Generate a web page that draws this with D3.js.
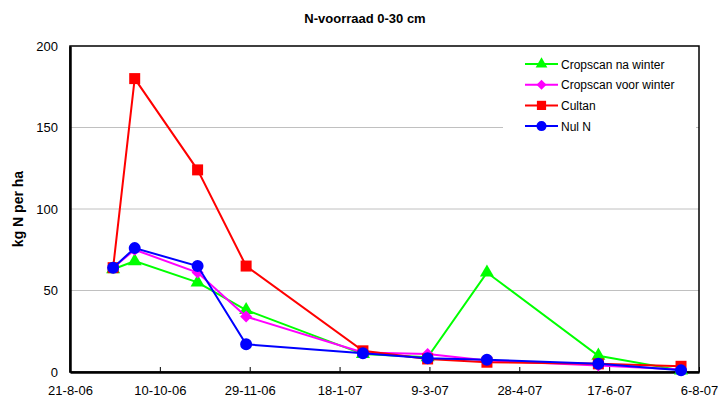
<!DOCTYPE html>
<html>
<head>
<meta charset="utf-8">
<script src="https://cdn.jsdelivr.net/npm/d3@7"></script>
<style>
  body { margin: 0; background: #fff; }
  svg { font-family: "Liberation Sans", Arial, sans-serif; }
</style>
</head>
<body>
<svg id="chart" width="718" height="401"></svg>
<script>
// sample dates and measured N stock
const dates = ["2006-09-14", "2006-09-26", "2006-10-31", "2006-11-27", "2007-01-31",
    "2007-03-08", "2007-04-10", "2007-06-11", "2007-07-27"];

const naWinter = [63, 68, 55, 38, 11, 9, 61, 10, 1];
const voorWinter = [64, 75, 61, 34, 12, 11, 7, 4, 1.5];
const cultan = [64, 180, 124, 65, 13, 8, 6, 5, 3.5];
const nulN = [64, 76, 65, 17, 11.5, 8.5, 7.5, 5, 1];

const seriesNames = ["Cropscan na winter", "Cropscan voor winter", "Cultan", "Nul N"];
const xTicks = ["2006-08-21", "2006-10-10", "2006-11-29", "2007-01-18", "2007-03-09",
    "2007-04-28", "2007-06-17", "2007-08-06"];
const yTicks = [0, 50, 100, 150, 200];

const margin = { top: 46, right: 19, bottom: 29, left: 70 };
const width = 718, height = 401;

const svg = d3.select("#chart");

const x = d3.scaleUtc()
    .domain([new Date(xTicks[0]), new Date(xTicks[xTicks.length - 1])])
    .range([margin.left, width - margin.right]);

const y = d3.scaleLinear()
    .domain([0, 200])
    .range([height - margin.bottom, margin.top]);

const fmt = d3.utcFormat("%-d-%-m-%y");

// gridlines
svg.append("g")
    .selectAll("line")
    .data(yTicks.slice(1, -1))
    .join("line")
    .attr("x1", margin.left).attr("x2", width - margin.right)
    .attr("y1", d => y(d)).attr("y2", d => y(d))
    .attr("stroke", "#c0c0c0")
    .attr("stroke-width", 1);

// legend background (covers gridline)
svg.append("rect")
    .attr("x", 503).attr("y", 50)
    .attr("width", 193).attr("height", 88)
    .attr("fill", "#fff");

// frame
svg.append("rect")
    .attr("x", margin.left).attr("y", margin.top)
    .attr("width", width - margin.left - margin.right)
    .attr("height", height - margin.top - margin.bottom)
    .attr("fill", "none")
    .attr("stroke", "#000")
    .attr("stroke-width", 1.5);

// x axis
const xAxis = svg.append("g")
    .attr("transform", `translate(0,${height - margin.bottom})`)
    .call(d3.axisBottom(x)
        .tickValues(xTicks.map(d => new Date(d)))
        .tickFormat(fmt)
        .tickSizeInner(-5)
        .tickSizeOuter(0)
        .tickPadding(14));
xAxis.select(".domain").attr("stroke-width", 2.5);
xAxis.selectAll("text")
    .attr("font-size", 13)
    .attr("fill", "#000")
    .attr("font-family", "'Liberation Sans', Arial, sans-serif");

// y axis
const yAxis = svg.append("g")
    .attr("transform", `translate(${margin.left},0)`)
    .call(d3.axisLeft(y)
        .tickValues(yTicks)
        .tickSize(0)
        .tickPadding(12));
yAxis.select(".domain").attr("stroke-width", 2.5);
yAxis.selectAll("text")
    .attr("font-size", 13)
    .attr("fill", "#000")
    .attr("font-family", "'Liberation Sans', Arial, sans-serif");

// title
svg.append("text")
    .attr("x", 365).attr("y", 23)
    .attr("text-anchor", "middle")
    .attr("font-size", 13)
    .attr("font-weight", "bold")
    .text("N-voorraad 0-30 cm");

svg.append("text")
    .attr("transform", "translate(23,209)rotate(-90)")
    .attr("text-anchor", "middle")
    .attr("font-size", 14)
    .attr("font-weight", "bold")
    .text("kg N per ha");

const series = [
    { name: seriesNames[0], values: naWinter, color: "#00ff00", symbol: d3.symbolTriangle, size: 85, rot: 0 },
    { name: seriesNames[1], values: voorWinter, color: "#ff00ff", symbol: d3.symbolSquare, size: 72, rot: 45 },
    { name: seriesNames[2], values: cultan, color: "#ff0000", symbol: d3.symbolSquare, size: 121, rot: 0 },
    { name: seriesNames[3], values: nulN, color: "#0000ff", symbol: d3.symbolCircle, size: 113, rot: 0 }
];

const line = d3.line()
    .x((d, i) => x(new Date(dates[i])))
    .y(d => y(d));

series.forEach(s => {
    const g = svg.append("g");
    g.append("path")
        .attr("d", line(s.values))
        .attr("fill", "none")
        .attr("stroke", s.color)
        .attr("stroke-width", 2);
    g.selectAll("path.pt")
        .data(s.values)
        .join("path")
        .attr("class", "pt")
        .attr("d", d3.symbol(s.symbol, s.size))
        .attr("transform", (d, i) => `translate(${x(new Date(dates[i]))},${y(d)})rotate(${s.rot})`)
        .attr("fill", s.color);
});

// legend
const legend = svg.append("g");
series.forEach((s, i) => {
    const cy = 64 + i * 20.7;
    legend.append("line")
        .attr("x1", 525).attr("x2", 558)
        .attr("y1", cy).attr("y2", cy)
        .attr("stroke", s.color)
        .attr("stroke-width", 2);
    legend.append("path")
        .attr("d", d3.symbol(s.symbol, s.size * 0.7))
        .attr("transform", `translate(541.5,${cy})rotate(${s.rot})`)
        .attr("fill", s.color);
    legend.append("text")
        .attr("x", 561).attr("y", cy + 4.5)
        .attr("font-size", 12)
        .text(s.name);
});
</script>
</body>
</html>
